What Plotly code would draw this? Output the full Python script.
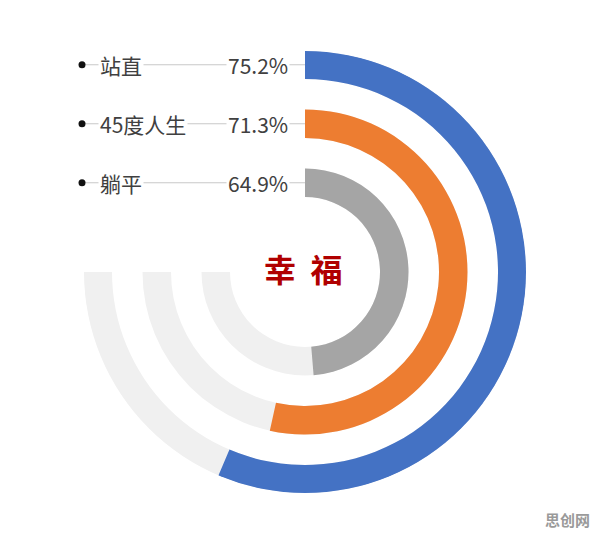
import plotly.graph_objects as go

# ---- data ----
labels = ["站直", "45度人生", "躺平"]
values = [75.2, 71.3, 64.9]
colors = ["#4472C4", "#ED7D31", "#A5A5A5"]
center_text = "幸福"
watermark = "思创网"

# ---- layout constants (pixels) ----
W, H = 596, 539
CX, CY = 305, 272
R_MAX = 221
ring_inner = [193, 134, 75]
ring_w = 28.5
SWEEP = 270.0
TRACK = "#F0F0F0"
FONT = "Noto Sans CJK SC"

fig = go.Figure()

for i, (lab, v, c) in enumerate(zip(labels, values, colors)):
    # background track (3/4 circle)
    fig.add_trace(go.Barpolar(
        r=[ring_w], base=[ring_inner[i]], theta=[SWEEP / 2], width=[SWEEP],
        marker=dict(color=TRACK, line=dict(width=0)),
        hoverinfo="skip", showlegend=False))
    # value arc
    span = v / 100.0 * SWEEP
    fig.add_trace(go.Barpolar(
        r=[ring_w], base=[ring_inner[i]], theta=[span / 2], width=[span],
        marker=dict(color=c, line=dict(width=0)),
        name=lab, showlegend=False))

fig.update_layout(
    width=W, height=H,
    margin=dict(l=0, r=0, t=0, b=0),
    paper_bgcolor="white", plot_bgcolor="white",
    polar=dict(
        domain=dict(x=[(CX - R_MAX) / W, (CX + R_MAX) / W],
                    y=[1 - (CY + R_MAX) / H, 1 - (CY - R_MAX) / H]),
        bgcolor="rgba(0,0,0,0)",
        hole=0,
        barmode="overlay",
        radialaxis=dict(range=[0, R_MAX], visible=False, showgrid=False),
        angularaxis=dict(direction="clockwise", rotation=90, visible=False,
                         showgrid=False),
    ),
)

def px(x):
    return x / W

def py(y):
    return 1 - y / H

shapes = []
annotations = []
for i, (lab, v) in enumerate(zip(labels, values)):
    ymid = CY - (ring_inner[i] + ring_w / 2)
    # leader line from bullet to arc start
    shapes.append(dict(type="line", xref="paper", yref="paper",
                       x0=px(82), x1=px(CX), y0=py(ymid), y1=py(ymid),
                       line=dict(color="#C8C8C8", width=1), layer="below"))
    # bullet
    shapes.append(dict(type="circle", xref="paper", yref="paper",
                       x0=px(78.5), x1=px(85.5), y0=py(ymid - 3.5), y1=py(ymid + 3.5),
                       fillcolor="#111111", line=dict(width=0)))
    annotations.append(dict(xref="paper", yref="paper", x=px(98), y=py(ymid),
                            xanchor="left", yanchor="middle", text=lab,
                            showarrow=False, bgcolor="white", borderpad=1,
                            font=dict(family=FONT, size=21, color="#404040")))
    annotations.append(dict(xref="paper", yref="paper", x=px(290), y=py(ymid),
                            xanchor="right", yanchor="middle", text=f"{v}%",
                            showarrow=False, bgcolor="white", borderpad=1,
                            font=dict(family=FONT, size=21, color="#404040")))

annotations.append(dict(xref="paper", yref="paper", x=px(303), y=py(268),
                        xanchor="center", yanchor="middle",
                        text=f"<b>{center_text[0]}\u00a0\u00a0{center_text[1:]}</b>",
                        showarrow=False,
                        font=dict(family=FONT, size=32, color="#B00000")))
annotations.append(dict(xref="paper", yref="paper", x=px(592), y=py(519),
                        xanchor="right", yanchor="middle",
                        text=f"<b>{watermark}</b>", showarrow=False,
                        font=dict(family=FONT, size=15, color="#9A9A9A")))

fig.update_layout(shapes=shapes, annotations=annotations)

fig.write_html("out.html")
